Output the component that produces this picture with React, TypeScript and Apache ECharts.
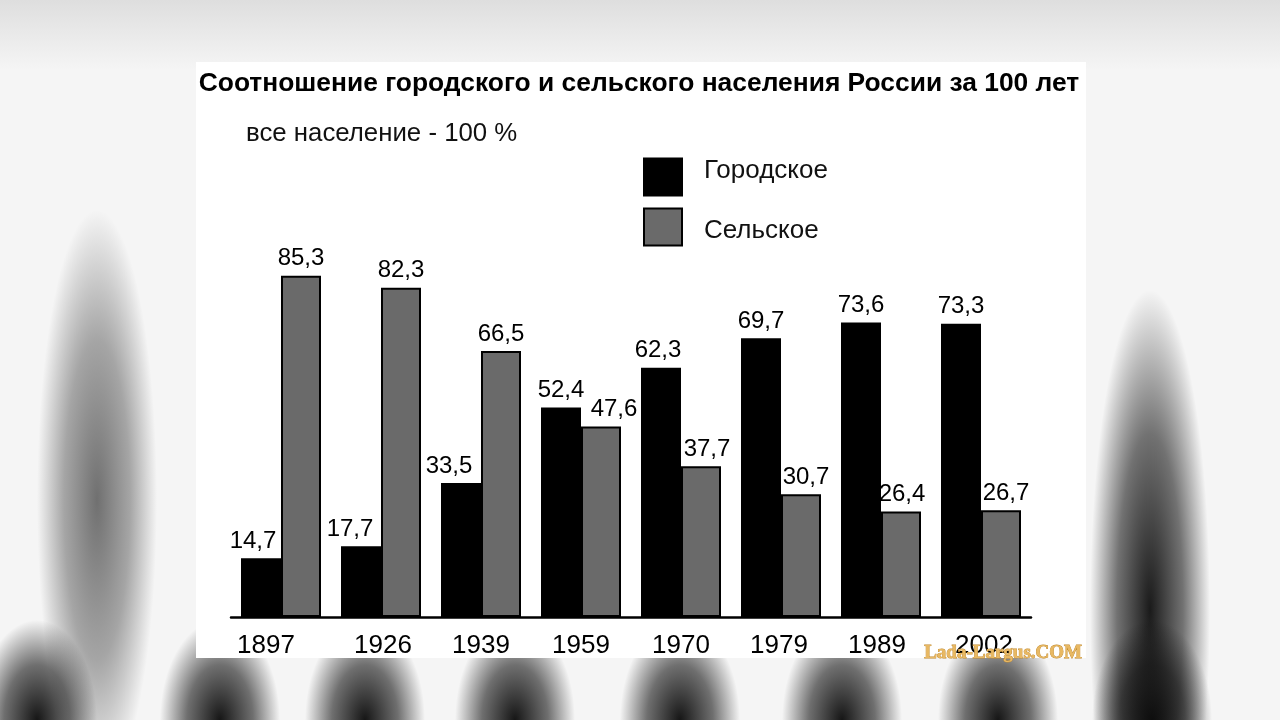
import React, { useEffect, useRef } from "react";
import * as echarts from "echarts";

const years = ["1897", "1926", "1939", "1959", "1970", "1979", "1989", "2002"];
const urban = [14.7, 17.7, 33.5, 52.4, 62.3, 69.7, 73.6, 73.3];
const rural = [85.3, 82.3, 66.5, 47.6, 37.7, 30.7, 26.4, 26.7];
const seriesNames = ["Городское", "Сельское"];
const titleText = "Соотношение городского и сельского населения России за 100 лет";
const subtitleText = "все население - 100 %";
const watermarkText = "Lada-Largus.COM";

// horizontal nudges of the value labels, as in the original picture (px)
const urbanLabelShift = [-8, -11, -12, 0, -3, 0, 0, 0];
const ruralLabelShift = [0, 0, 0, 13, 6, 5, 1, 5];
const yearLabelShift = [-15, 2, 0, 0, 0, -2, -4, 3];

const FONT = "'Liberation Sans', Arial, sans-serif";

function radial(color: string) {
  return {
    type: "radial",
    x: 0.5,
    y: 0.5,
    r: 0.5,
    colorStops: [
      { offset: 0, color },
      { offset: 0.55, color: color.replace(/[\d.]+\)$/, (m) => String(parseFloat(m) * 0.6) + ")") },
      { offset: 1, color: color.replace(/[\d.]+\)$/, "0)") },
    ],
  };
}

function blob(cx: number, cy: number, rx: number, ry: number, color: string) {
  return {
    type: "ellipse",
    silent: true,
    shape: { cx, cy, rx, ry },
    style: { fill: radial(color) },
    z: -10,
  };
}

export default function App() {
  const ref = useRef<HTMLDivElement>(null);
  useEffect(() => {
    if (!ref.current) return;
    const chart = echarts.init(ref.current, undefined, { renderer: "svg" });
    const bottomBlobs = [37, 220, 365, 515, 680, 842, 998, 1152];
    const background: any[] = [
      {
        type: "rect",
        silent: true,
        shape: { x: 0, y: 0, width: 1280, height: 720 },
        style: { fill: "#f5f5f5" },
        z: -20,
      },
      {
        type: "rect",
        silent: true,
        shape: { x: 0, y: 0, width: 1280, height: 70 },
        style: {
          fill: {
            type: "linear",
            x: 0, y: 0, x2: 0, y2: 1,
            colorStops: [
              { offset: 0, color: "#dedede" },
              { offset: 0.6, color: "#ececec" },
              { offset: 1, color: "#f5f5f5" },
            ],
          },
        },
        z: -15,
      },
      blob(97, 500, 60, 290, "rgba(105,105,105,0.95)"),
      blob(1150, 610, 60, 320, "rgba(15,15,15,0.95)"),
      ...bottomBlobs.map((x) => blob(x, 720, 60, 100, "rgba(10,10,10,0.95)")),
      {
        type: "rect",
        silent: true,
        shape: { x: 196, y: 62, width: 890, height: 596 },
        style: { fill: "#ffffff" },
        z: -5,
      },
      {
        type: "text",
        silent: true,
        x: 639,
        y: 82,
        style: {
          text: titleText,
          fontFamily: FONT,
          fontWeight: "bold",
          fontSize: 26.4,
          fill: "#000",
          align: "center",
          verticalAlign: "middle",
        },
        z: 5,
      },
      {
        type: "text",
        silent: true,
        x: 246,
        y: 132,
        style: {
          text: subtitleText,
          fontFamily: FONT,
          fontSize: 25.8,
          fill: "#111",
          align: "left",
          verticalAlign: "middle",
        },
        z: 5,
      },
      {
        type: "text",
        silent: true,
        x: 1082,
        y: 651,
        style: {
          text: watermarkText,
          fontFamily: "'Liberation Serif', 'DejaVu Serif', serif",
          fontWeight: "bold",
          fontSize: 19,
          fill: "#e8b862",
          stroke: "#c08a30",
          lineWidth: 0.8,
          align: "right",
          verticalAlign: "middle",
        },
        z: 6,
      },
    ];

    const fmt = (p: any) => String(p.value).replace(".", ",");
    const labelCfg = {
      show: true,
      position: "top",
      distance: 7,
      formatter: fmt,
      color: "#000",
      fontFamily: FONT,
      fontSize: 24,
    };

    const withShift = (vals: number[], shifts: number[]) =>
      vals.map((v, i) => ({ value: v, label: { offset: [shifts[i], 0] } }));

    const legendRich = {
      fontFamily: FONT,
      fontSize: 26,
      color: "#111",
    };

    chart.setOption({
      animation: false,
      backgroundColor: "transparent",
      graphic: background,
      legend: {
        data: seriesNames,
        orient: "vertical",
        left: 643,
        top: 156,
        padding: 0,
        icon: "rect",
        itemWidth: 38,
        itemHeight: 37,
        itemGap: 11,
        formatter: (name: string) =>
          name === seriesNames[0] ? `{up|${name}}` : `{down|${name}}`,
        textStyle: {
          fontFamily: FONT,
          fontSize: 26,
          color: "#111",
          rich: {
            up: { ...legendRich, padding: [0, 0, 16, 17] },
            down: { ...legendRich, padding: [4, 0, 0, 17] },
          },
        },
      },
      grid: { left: 231, right: 249, top: 217, bottom: 103, containLabel: false },
      xAxis: {
        type: "category",
        data: years.map((y, i) => ({
          value: y,
          textStyle: { padding: [0, yearLabelShift[i] < 0 ? -2 * yearLabelShift[i] : 0, 0, yearLabelShift[i] > 0 ? 2 * yearLabelShift[i] : 0] },
        })),
        axisLine: { show: true, lineStyle: { color: "#000", width: 2.5 } },
        axisTick: { show: false },
        axisLabel: {
          color: "#000",
          fontFamily: FONT,
          fontSize: 26,
          margin: 14,
        },
        splitLine: { show: false },
      },
      yAxis: {
        type: "value",
        min: 0,
        max: 100,
        show: false,
        splitLine: { show: false },
      },
      series: [
        {
          name: seriesNames[0],
          type: "bar",
          data: withShift(urban, urbanLabelShift),
          barWidth: 40,
          barGap: "0%",
          itemStyle: { color: "#000000", borderColor: "#000", borderWidth: 1.5 },
          label: labelCfg,
        },
        {
          name: seriesNames[1],
          type: "bar",
          data: withShift(rural, ruralLabelShift),
          barWidth: 40,
          barGap: "0%",
          itemStyle: { color: "#6a6a6a", borderColor: "#000", borderWidth: 2 },
          label: labelCfg,
        },
      ],
    });
    return () => chart.dispose();
  }, []);
  return (
    <div
      ref={ref}
      style={{ position: "fixed", left: 0, top: 0, width: 1280, height: 720 }}
    />
  );
}
